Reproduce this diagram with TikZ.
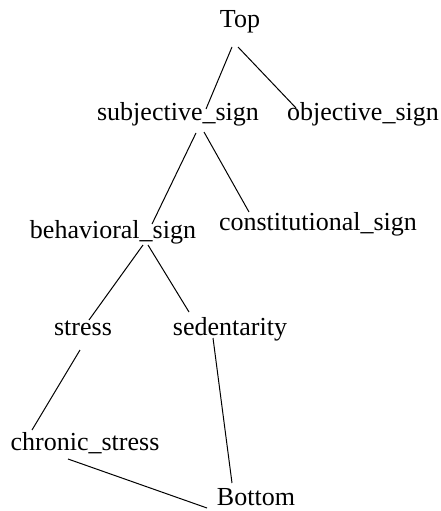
\documentclass[tikz,border=0pt]{standalone}
\usepackage{fontspec}
\setmainfont{Liberation Serif}
\usepackage{tikz}
\usetikzlibrary{calc}

\begin{document}
\begin{tikzpicture}[x=1pt, y=-1pt]
        % ================= 样式定义 =================
        \tikzset{
            % 概念节点:无边框,只有文字
            concept/.style={inner sep=0pt, anchor=base, font=\fontsize{26}{30}\selectfont},
            % 边样式
            edge/.style={line width=1pt, black}
        }
        \useasboundingbox (0,0) rectangle (440,511);

        % ================= 1. 绘制概念节点 =================
        \node[concept] (top) at (240, 28) {Top};

        \node[concept] (subj) at (178, 120) {subjective\_sign};
        \node[concept] (obj) at (363, 120) {objective\_sign};

        \node[concept] (behav) at (113, 238) {behavioral\_sign};
        \node[concept] (const) at (318, 230) {constitutional\_sign};

        \node[concept] (stress) at (83, 335) {stress};
        \node[concept] (sedent) at (230, 335) {sedentarity};

        \node[concept] (chronic) at (85, 450) {chronic\_stress};
        \node[concept] (bottom) at (256, 505) {Bottom};

        % ================= 2. 绘制连线 =================
        % --- 顶层 ---
        \draw[edge] ([shift={(-8,19)}]top.base) -- ([shift={(28,-11)}]subj.base);
        \draw[edge] ([shift={(-2,19)}]top.base) -- ([shift={(-67,-12)}]obj.base);

        % --- subjective_sign 下面 ---
        \draw[edge] ([shift={(18,13)}]subj.base) -- ([shift={(39,-14)}]behav.base);
        \draw[edge] ([shift={(26,12)}]subj.base) -- ([shift={(-69,-18)}]const.base);

        % --- behavioral_sign 下面 ---
        \draw[edge] ([shift={(30,7)}]behav.base) -- ([shift={(6,-15)}]stress.base);
        \draw[edge] ([shift={(35,7)}]behav.base) -- ([shift={(-41,-23)}]sedent.base);

        % --- 到 Bottom ---
        \draw[edge] ([shift={(-3,15)}]stress.base) -- ([shift={(-53,-20)}]chronic.base);
        \draw[edge] ([shift={(-17,3)}]sedent.base) -- ([shift={(-24,-22)}]bottom.base);
        \draw[edge] ([shift={(-17,9)}]chronic.base) -- ([shift={(-49,3)}]bottom.base);

    \end{tikzpicture}
\end{document}
